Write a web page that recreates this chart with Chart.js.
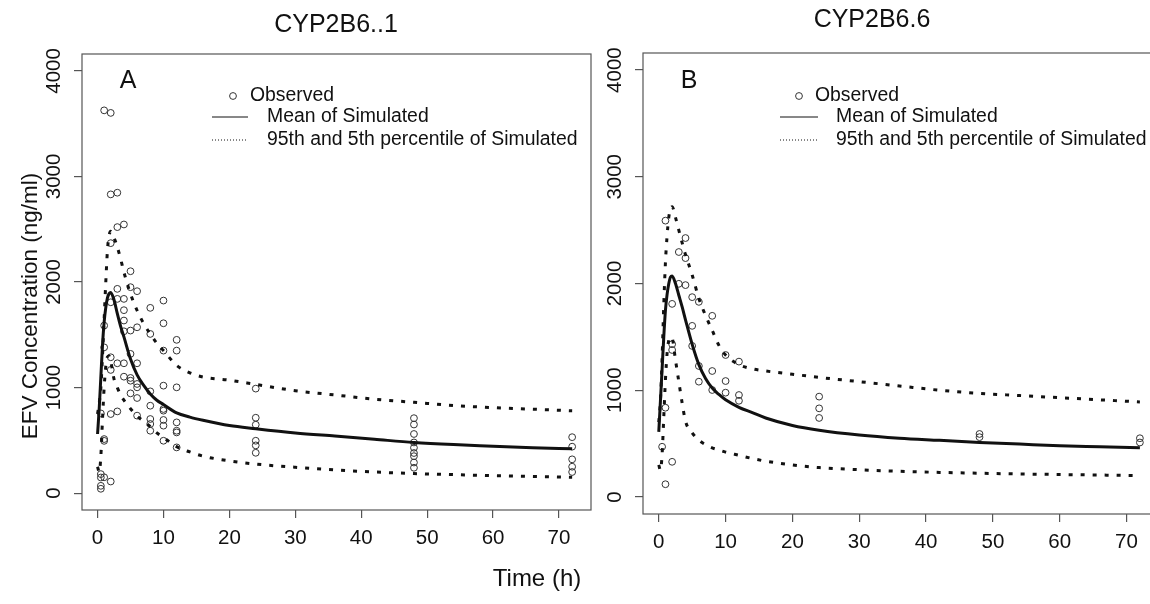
<!DOCTYPE html>
<html><head><meta charset="utf-8">
<script src="https://cdn.jsdelivr.net/npm/chart.js@4.4.1/dist/chart.umd.min.js"></script>
<style>
html,body{margin:0;padding:0;background:#fff;overflow:hidden;width:1150px;height:604px;}
#wa{position:absolute;left:0;top:0;width:600px;height:604px;}
#wb{position:absolute;left:600px;top:0;width:600px;height:604px;}
canvas{display:block;}
</style></head><body>
<div id="wa"><canvas id="ca" width="600" height="604"></canvas></div>
<div id="wb"><canvas id="cb" width="600" height="604"></canvas></div>
<script>
// ---- tick labels ----
const xTicks = [0, 10, 20, 30, 40, 50, 60, 70];
const yTicks = [0, 1000, 2000, 3000, 4000];

// ---- simulated time grid (h) ----
const simTime = [0,0.25,0.5,0.75,1,1.25,1.5,1.75,2,2.5,3,3.5,4,5,6,7,8,9,10,12,14,16,20,24,30,36,42,48,54,60,66,72];

// ---- Panel A: CYP2B6..1 ----
const meanA  = [560,800,1100,1400,1620,1760,1850,1890,1900,1830,1700,1580,1480,1270,1120,1020,940,880,840,760,720,690,640,610,570,540,510,480,460,445,430,420];
const upperA = [750,850,1000,1300,1650,2000,2300,2440,2480,2420,2330,2220,2093,1888,1730,1606,1508,1420,1350,1210,1140,1100,1070,1030,970,930,890,860,830,810,795,780];
const lowerA = [250,200,350,700,1000,1200,1290,1300,1250,1080,1000,930,880,800,730,680,630,570,527,440,390,350,306,275,245,220,200,185,175,165,158,150];
const obsTimeA = [0.5,0.5,0.5,0.5,0.5,
  1,1,1,1,1,1,
  2,2,2,2,2,2,2,2,
  3,3,3,3,3,3,
  4,4,4,4,4,4,4,
  5,5,5,5,5,5,5,
  6,6,6,6,6,6,6,
  8,8,8,8,8,8,8,
  10,10,10,10,10,10,10,10,10,
  12,12,12,12,12,12,12,
  24,24,24,24,24,24,
  48,48,48,48,48,48,48,48,48,
  72,72,72,72,72];
const obsConcA = [755,180,148,69,41,
  3626,1587,1381,512,495,150,
  3602,2830,2368,1808,1287,1167,749,110,
  2846,2520,1935,1840,1230,774,
  2545,1840,1733,1635,1533,1230,1103,
  2102,1951,1540,1319,1091,1065,945,
  1913,1571,1230,1034,1002,901,734,
  1755,1508,964,828,702,655,591,
  1824,1609,1350,1018,797,781,693,639,496,
  1452,1350,1002,670,591,575,433,
  990,714,648,496,452,382,
  710,650,560,480,430,380,350,290,240,
  530,440,320,250,200];

// ---- Panel B: CYP2B6.6 ----
const meanB  = [610,900,1200,1500,1750,1900,2000,2060,2070,2000,1890,1780,1660,1430,1240,1110,1020,960,910,840,790,740,670,625,580,550,530,510,495,480,470,460];
const upperB = [700,900,1300,1800,2200,2450,2620,2700,2720,2620,2500,2380,2270,2080,1860,1700,1560,1420,1330,1240,1200,1180,1150,1120,1080,1040,1000,970,950,930,910,890];
const lowerB = [300,250,400,750,1100,1350,1470,1500,1490,1283,1080,880,710,600,532,490,460,440,420,390,360,335,300,275,255,240,230,222,215,210,205,200];
const obsTimeB = [0.5, 1,1,1, 2,2,2,2, 3,3, 4,4,4, 5,5,5, 6,6,6, 8,8,8, 10,10,10, 12,12,12, 24,24,24, 48,48, 72,72];
const obsConcB = [470, 2589,836,119, 1809,1431,1377,329, 2295,1997, 2426,2238,1985, 1872,1603,1415, 1828,1227,1080, 1697,1180,1002, 1330,1086,977, 1268,955,901, 940,830,740, 590,560, 550,510];

const legendLabels = ['Observed', 'Mean of Simulated', '95th and 5th percentile of Simulated'];

const FONT = '"Liberation Sans", Arial, sans-serif';
const zip = (xs, ys) => xs.map((x, i) => ({x: x, y: ys[i]}));

const deco = {
  id: 'deco',
  afterDraw(chart, args, o) {
    const ctx = chart.ctx, a = chart.chartArea;
    const xs = chart.scales.x, ys = chart.scales.y;
    ctx.save();
    // box
    ctx.strokeStyle = '#555'; ctx.lineWidth = 1.2; ctx.setLineDash([]);
    ctx.strokeRect(a.left, a.top, a.right - a.left, a.bottom - a.top);
    ctx.fillStyle = '#111';
    // x tick labels
    ctx.font = '20.5px ' + FONT; ctx.textAlign = 'center'; ctx.textBaseline = 'middle';
    xs.ticks.forEach(t => ctx.fillText(String(t.value), xs.getPixelForValue(t.value), a.bottom + 28));
    // y tick labels (rotated)
    ys.ticks.forEach(t => {
      ctx.save();
      ctx.translate(o.yLabX, ys.getPixelForValue(t.value));
      ctx.rotate(-Math.PI / 2);
      ctx.fillText(String(t.value), 0, 0);
      ctx.restore();
    });
    // panel letter
    ctx.font = '25px ' + FONT;
    ctx.fillText(o.letter, o.letterX, o.letterY);
    // title
    ctx.font = '25px ' + FONT;
    ctx.fillText(o.title, o.titleX, o.titleY);
    // legend
    ctx.font = '19.4px ' + FONT; ctx.textAlign = 'left';
    ctx.strokeStyle = '#333'; ctx.lineWidth = 1;
    ctx.beginPath(); ctx.arc(o.legCircX, o.legY[0], 3.4, 0, Math.PI * 2); ctx.stroke();
    ctx.fillText(legendLabels[0], o.legObsTextX, o.legY[0]);
    ctx.strokeStyle = '#111';
    ctx.beginPath(); ctx.moveTo(o.legLineX[0], o.legY[1]); ctx.lineTo(o.legLineX[1], o.legY[1]); ctx.stroke();
    ctx.fillText(legendLabels[1], o.legTextX, o.legY[1]);
    ctx.setLineDash([1, 2]);
    ctx.beginPath(); ctx.moveTo(o.legLineX[0], o.legY[2]); ctx.lineTo(o.legLineX[1], o.legY[2]); ctx.stroke();
    ctx.setLineDash([]);
    ctx.fillText(legendLabels[2], o.legTextX, o.legY[2]);
    // axis titles
    if (o.xTitle) {
      ctx.font = '24px ' + FONT; ctx.textAlign = 'center';
      ctx.fillText(o.xTitle, o.xTitleX, o.xTitleY);
    }
    if (o.yTitle) {
      ctx.font = '22.5px ' + FONT; ctx.textAlign = 'center';
      ctx.save(); ctx.translate(o.yTitleX, o.yTitleY); ctx.rotate(-Math.PI / 2);
      ctx.fillText(o.yTitle, 0, 0); ctx.restore();
    }
    ctx.restore();
  }
};

function makeChart(id, area, mean, upper, lower, obsT, obsC, decoOpts) {
  const W = 600, H = 604;
  return new Chart(document.getElementById(id), {
    type: 'scatter',
    data: {
      datasets: [
        {type: 'line', data: zip(simTime, upper), borderColor: '#111', borderWidth: 3, borderDash: [4, 8], borderCapStyle: 'butt',
         pointRadius: 0, fill: false, cubicInterpolationMode: 'monotone'},
        {type: 'line', data: zip(simTime, lower), borderColor: '#111', borderWidth: 3, borderDash: [4, 8], borderCapStyle: 'butt',
         pointRadius: 0, fill: false, cubicInterpolationMode: 'monotone'},
        {type: 'line', data: zip(simTime, mean), borderColor: '#111', borderWidth: 3, pointRadius: 0, fill: false,
         cubicInterpolationMode: 'monotone'},
        {type: 'scatter', data: zip(obsT, obsC), pointStyle: 'circle', pointRadius: 3.4, borderWidth: 1,
         borderColor: '#333', backgroundColor: 'rgba(0,0,0,0)'}
      ]
    },
    options: {
      responsive: false, animation: false, devicePixelRatio: 1,
      layout: {padding: {left: 0, top: area.top, right: W - area.right, bottom: 0}},
      plugins: {legend: {display: false}, tooltip: {enabled: false}, deco: decoOpts},
      scales: {
        x: {type: 'linear', min: -2.36, max: 74.86,
            afterBuildTicks: s => { s.ticks = xTicks.map(v => ({value: v})); },
            afterFit: s => { s.height = H - area.bottom; },
            ticks: {display: false},
            grid: {drawOnChartArea: false, drawTicks: true, tickLength: 8, color: '#555', lineWidth: 1.2},
            border: {display: false}},
        y: {type: 'linear', min: -160, max: 4160,
            afterBuildTicks: s => { s.ticks = yTicks.map(v => ({value: v})); },
            afterFit: s => { s.width = area.left; },
            ticks: {display: false},
            grid: {drawOnChartArea: false, drawTicks: true, tickLength: 8, color: '#555', lineWidth: 1.2},
            border: {display: false}}
      }
    },
    plugins: [deco]
  });
}

makeChart('ca', {left: 82, top: 54, right: 591, bottom: 510}, meanA, upperA, lowerA, obsTimeA, obsConcA, {
  letter: 'A', letterX: 128, letterY: 81,
  title: 'CYP2B6..1', titleX: 336, titleY: 25,
  yLabX: 54,
  legCircX: 233, legObsTextX: 250, legLineX: [212, 248], legTextX: 267, legY: [96, 117, 140],
  xTitle: 'Time (h)', xTitleX: 537, xTitleY: 579,
  yTitle: 'EFV Concentration (ng/ml)', yTitleX: 31, yTitleY: 306
});
makeChart('cb', {left: 43, top: 53, right: 559, bottom: 514}, meanB, upperB, lowerB, obsTimeB, obsConcB, {
  letter: 'B', letterX: 89, letterY: 81,
  title: 'CYP2B6.6', titleX: 272, titleY: 20,
  yLabX: 15,
  legCircX: 199, legObsTextX: 215, legLineX: [180, 218], legTextX: 236, legY: [96, 117, 140]
});
</script>
</body></html>
